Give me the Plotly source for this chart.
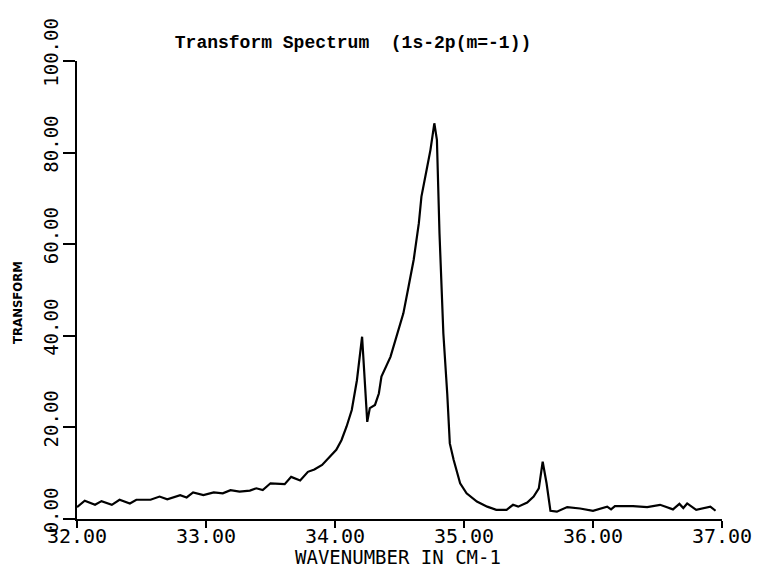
import plotly.graph_objects as go

# Wavenumber (cm-1) and transform values
wavenumber = [32.00, 32.06, 32.14, 32.19, 32.27, 32.33, 32.41, 32.46, 32.57, 32.64,
              32.70, 32.80, 32.85, 32.90, 32.98, 33.06, 33.13, 33.19, 33.26, 33.34,
              33.39, 33.44, 33.50, 33.61, 33.66, 33.73, 33.79, 33.84, 33.90, 33.95,
              34.01, 34.05, 34.09, 34.13, 34.17, 34.21, 34.25, 34.27, 34.31, 34.34,
              34.36, 34.43, 34.49, 34.53, 34.57, 34.61, 34.65, 34.67, 34.71, 34.74,
              34.77, 34.79, 34.81, 34.84, 34.87, 34.89, 34.92, 34.97, 35.02, 35.10,
              35.18, 35.25, 35.33, 35.38, 35.42, 35.49, 35.54, 35.58, 35.61, 35.64,
              35.67, 35.72, 35.80, 35.90, 36.00, 36.11, 36.14, 36.17, 36.31, 36.42,
              36.52, 36.62, 36.67, 36.70, 36.73, 36.80, 36.91, 36.95]
transform = [2.6, 4.0, 3.1, 3.9, 3.1, 4.2, 3.4, 4.2, 4.2, 4.9,
             4.3, 5.2, 4.7, 5.8, 5.2, 5.8, 5.6, 6.3, 6.0, 6.2,
             6.7, 6.3, 7.8, 7.6, 9.2, 8.4, 10.3, 10.8, 11.8, 13.2,
             15.1, 17.2, 20.2, 23.8, 30.3, 39.8, 21.2, 24.2, 24.9, 27.4,
             31.1, 35.4, 41.3, 44.9, 50.7, 56.6, 64.6, 70.4, 76.2, 80.6,
             86.4, 82.8, 62.4, 40.5, 27.4, 16.5, 12.9, 7.8, 5.6, 3.8,
             2.7, 2.0, 2.0, 3.1, 2.7, 3.6, 4.9, 6.7, 12.5, 7.8,
             1.8, 1.6, 2.6, 2.3, 1.8, 2.7, 2.1, 2.8, 2.8, 2.6,
             3.1, 2.1, 3.3, 2.4, 3.4, 2.0, 2.7, 1.8]

x_ticks = [32, 33, 34, 35, 36, 37]
y_ticks = [0, 20, 40, 60, 80, 100]
y_ticktext = ["\u00a0" + f"{v:.2f}" for v in y_ticks]

fig = go.Figure(go.Scatter(x=wavenumber, y=transform, mode="lines",
                           line=dict(color="black", width=2.2), showlegend=False))

fig.update_layout(
    width=771, height=567,
    paper_bgcolor="white", plot_bgcolor="white",
    margin=dict(l=69, r=57, t=53, b=56, autoexpand=False),
    title=dict(text="Transform Spectrum  (1s-2p(m=-1))",
               font=dict(family="Liberation Mono", size=18, color="black", weight="bold"),
               x=0.4475, xanchor="center", y=0.940, yanchor="middle"),
    xaxis=dict(range=[32, 37], tickvals=x_ticks, tickformat=".2f",
               showline=True, linecolor="black", linewidth=2,
               ticks="outside", ticklen=7, tickwidth=2, tickcolor="black",
               showgrid=False, zeroline=False, automargin=False,
               ticklabelstandoff=-9,
               tickfont=dict(family="DejaVu Sans Mono", size=20, color="black")),
    yaxis=dict(range=[0, 100], tickvals=y_ticks, ticktext=y_ticktext,
               showline=True, linecolor="black", linewidth=2,
               ticks="outside", ticklen=12, tickwidth=2, tickcolor="black",
               showgrid=False, zeroline=False, tickangle=-90,
               automargin=False, ticklabelstandoff=-3,
               tickfont=dict(family="DejaVu Sans Mono", size=19, color="black")),
    annotations=[
        dict(text="TRANSFORM", xref="paper", yref="paper",
             x=-0.0915, y=0.474, xanchor="center", yanchor="middle",
             textangle=-90, showarrow=False,
             font=dict(family="DejaVu Sans Condensed", size=13, color="black", weight="bold")),
        dict(text="WAVENUMBER IN CM-1", xref="paper", yref="paper",
             x=0.497, y=-0.083, xanchor="center", yanchor="middle",
             showarrow=False,
             font=dict(family="DejaVu Sans Mono", size=19, color="black")),
    ],
)

fig.write_html("out.html")
